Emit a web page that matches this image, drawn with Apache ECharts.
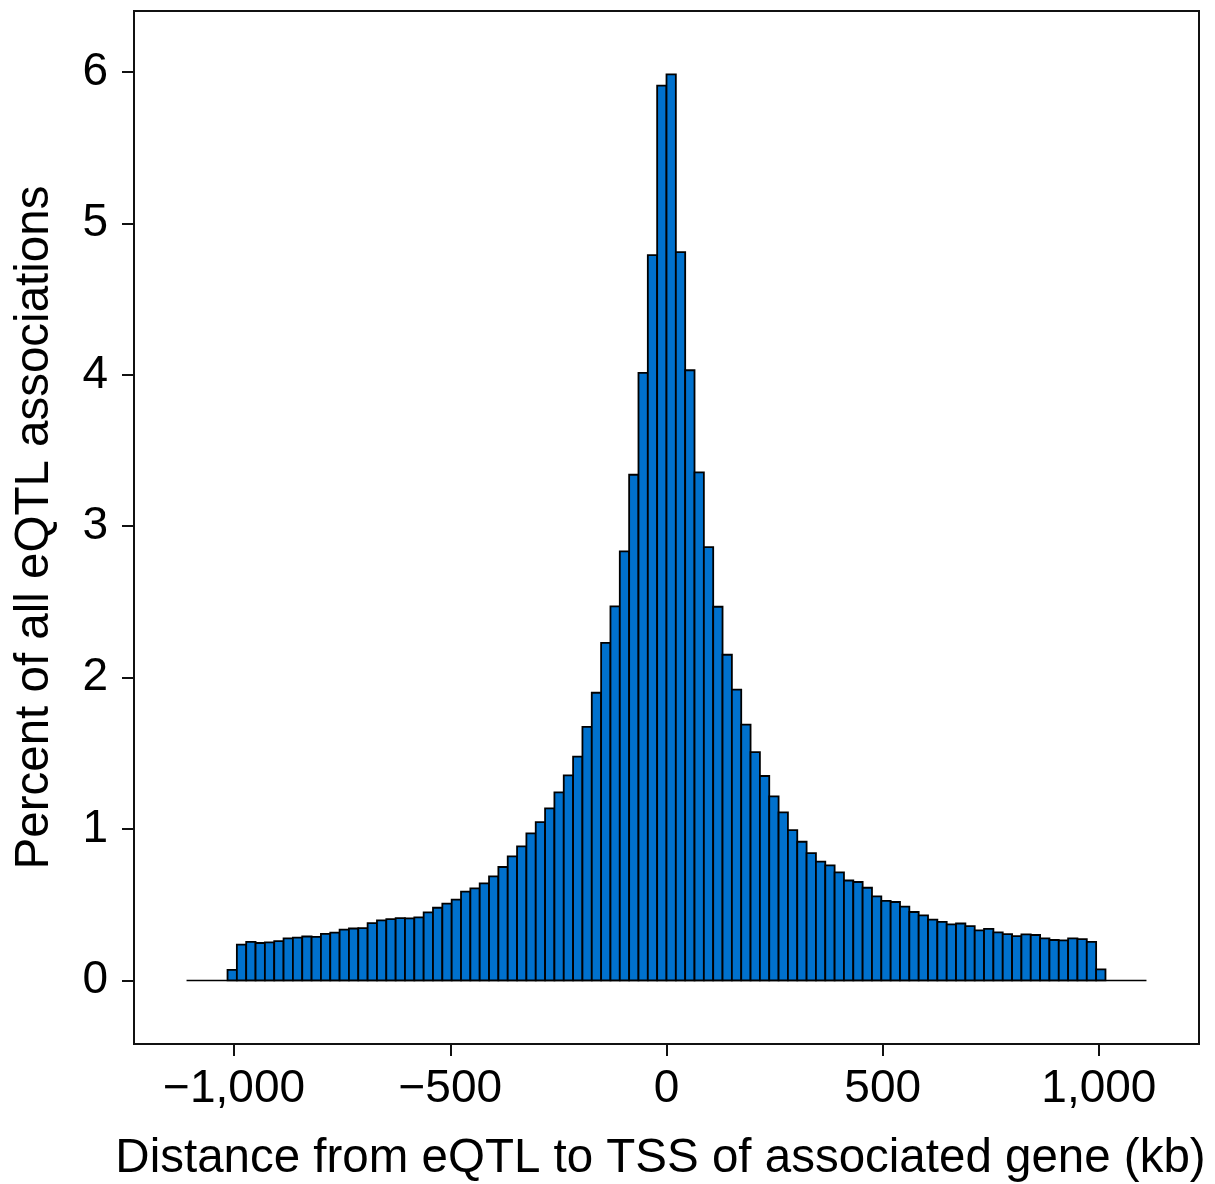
<!DOCTYPE html>
<html>
<head>
<meta charset="utf-8">
<style>
  html, body { margin: 0; padding: 0; background: #fff; }
  #chart { width: 1215px; height: 1184px; }
</style>
<script src="https://cdn.jsdelivr.net/npm/echarts@6/dist/echarts.min.js"></script>
</head>
<body>
<div id="chart"></div>
<script>
// Histogram of eQTL–TSS distances: 94 bins spanning about ±1,015 kb
const binStart = -1015.2;   // left edge of the first bin (kb)
const binWidth = 21.6;      // bin width (kb)

// Percent of all eQTL associations per bin, left to right
const percents = [
  0.069, 0.236, 0.254, 0.247, 0.251, 0.260, 0.277, 0.282, 0.290, 0.287,
  0.308, 0.315, 0.335, 0.343, 0.346, 0.379, 0.396, 0.405, 0.412, 0.410,
  0.416, 0.449, 0.480, 0.507, 0.533, 0.586, 0.608, 0.641, 0.687, 0.749,
  0.819, 0.885, 0.971, 1.046, 1.136, 1.242, 1.354, 1.478, 1.674, 1.900,
  2.230, 2.470, 2.834, 3.340, 4.013, 4.790, 5.910, 5.984, 4.810, 4.030,
  3.355, 2.862, 2.468, 2.151, 1.920, 1.689, 1.508, 1.350, 1.215, 1.110,
  0.993, 0.916, 0.841, 0.784, 0.760, 0.713, 0.660, 0.650, 0.612, 0.555,
  0.526, 0.518, 0.487, 0.452, 0.430, 0.401, 0.386, 0.370, 0.376, 0.359,
  0.330, 0.341, 0.317, 0.306, 0.293, 0.304, 0.300, 0.277, 0.267, 0.264,
  0.277, 0.273, 0.254, 0.073
];

// Axis tick positions and labels
const xTicks = [-1000, -500, 0, 500, 1000];
const xTickLabels = ['\u22121,000', '\u2212500', '0', '500', '1,000'];
const yTicks = [0, 1, 2, 3, 4, 5, 6];

// Extent of the zero baseline (kb)
const baseline = [-1110, 1110];

const bins = percents.map((p, i) => [binStart + i * binWidth, binStart + (i + 1) * binWidth, p]);

const FONT = 'Liberation Sans, Arial, Helvetica, sans-serif';
const chart = echarts.init(document.getElementById('chart'), null, { renderer: 'canvas' });

chart.setOption({
  animation: false,
  backgroundColor: '#fff',
  grid: {
    left: 134, top: 11, width: 1065, height: 1033,
    outerBoundsMode: 'none', containLabel: false,
    show: true, borderColor: '#111', borderWidth: 2, backgroundColor: 'transparent'
  },
  xAxis: {
    type: 'value',
    min: -1231.5, max: 1231.5,
    splitLine: { show: false },
    axisLine: { show: false, onZero: false },
    axisTick: { show: true, inside: false, length: 12, customValues: xTicks,
                lineStyle: { color: '#111', width: 2 } },
    axisLabel: {
      customValues: xTicks,
      formatter: v => xTickLabels[xTicks.indexOf(v)],
      color: '#000', fontFamily: FONT, fontSize: 46, margin: 22
    },
    name: 'Distance from eQTL to TSS of associated gene (kb)',
    nameLocation: 'middle', nameGap: 91,
    nameTextStyle: { color: '#000', fontFamily: FONT, fontSize: 47.5, padding: [0, 12, 0, 0] }
  },
  yAxis: {
    type: 'value',
    min: -0.42, max: 6.403,
    splitLine: { show: false },
    axisLine: { show: false, onZero: false },
    axisTick: { show: true, inside: false, length: 12, customValues: yTicks,
                lineStyle: { color: '#111', width: 2 } },
    axisLabel: {
      customValues: yTicks,
      color: '#000', fontFamily: FONT, fontSize: 46, margin: 26
    },
    name: 'Percent of all eQTL associations',
    nameLocation: 'middle', nameGap: 75,
    nameTextStyle: { color: '#000', fontFamily: FONT, fontSize: 47.5 }
  },
  series: [
    {
      type: 'line',
      data: baseline.map(x => [x, 0]),
      symbol: 'none',
      lineStyle: { color: '#000', width: 1.5 },
      z: 1
    },
    {
      type: 'custom',
      data: bins,
      encode: { x: [0, 1], y: 2 },
      renderItem: (params, api) => {
        const p0 = api.coord([api.value(0), 0]);
        const p1 = api.coord([api.value(1), api.value(2)]);
        return {
          type: 'rect',
          shape: { x: p0[0], y: p1[1], width: p1[0] - p0[0], height: p0[1] - p1[1] },
          style: { fill: '#0071CD', stroke: '#000', lineWidth: 1.8 }
        };
      },
      z: 2
    }
  ]
});
</script>
</body>
</html>
